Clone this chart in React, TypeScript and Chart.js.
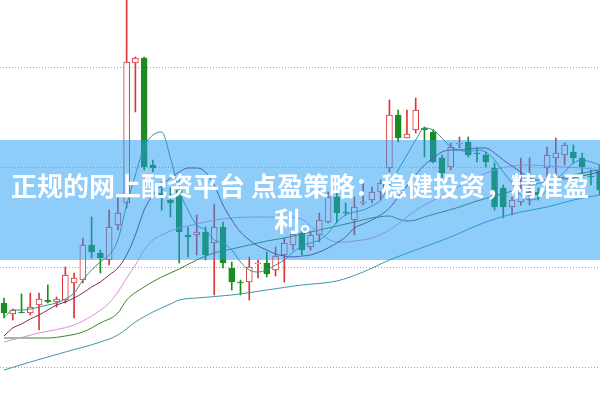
import React, { useEffect, useRef } from "react";
import { Chart, registerables } from "chart.js";

Chart.register(...registerables);

// Candles (price units), index 0..68
const opens = [1.64,1.53,1.55,1.54,1.62,1.67,1.65,1.67,1.84,1.87,2.22,2.14,2.07,2.42,2.64,4.04,4.09,3.02,2.74,2.67,2.77,2.32,2.32,2.35,2.24,2.40,1.99,1.85,1.85,2.03,2.04,1.97,2.12,2.22,2.34,2.20,2.32,2.45,2.70,2.55,2.47,2.64,2.67,2.75,2.99,3.52,3.29,3.37,3.39,3.35,3.09,3.00,3.23,3.25,3.14,3.12,2.99,2.79,2.60,2.65,2.72,2.75,2.99,3.09,3.12,3.15,3.09,2.91,2.97];
const highs = [1.69,1.58,1.73,1.74,1.74,1.82,1.70,2.00,1.94,2.29,2.50,2.17,2.57,2.72,4.77,4.10,4.10,3.07,2.85,2.79,2.87,2.40,2.52,2.40,2.63,2.45,2.05,1.87,2.10,2.07,2.15,2.20,2.29,2.36,2.37,2.35,2.54,2.75,2.74,2.64,2.70,2.84,2.80,2.87,3.67,3.57,3.57,3.69,3.40,3.37,3.12,3.24,3.30,3.30,3.19,3.15,3.04,2.82,2.70,3.09,3.09,2.79,3.20,3.29,3.24,3.22,3.14,2.97,3.02];
const lows = [1.49,1.47,1.54,1.52,1.37,1.64,1.60,1.64,1.49,1.84,2.09,1.94,2.02,2.37,2.59,3.55,2.97,2.95,2.57,2.50,2.04,2.10,2.12,2.07,1.72,1.99,1.77,1.72,1.67,1.89,1.90,1.91,1.85,2.17,2.12,2.17,2.25,2.44,2.44,2.52,2.32,2.62,2.64,2.67,2.95,3.25,3.29,3.34,3.10,3.04,2.87,2.97,3.19,3.10,3.05,3.00,2.57,2.49,2.52,2.62,2.62,2.67,2.90,2.90,3.02,3.04,2.89,2.82,2.72];
const closes = [1.54,1.57,1.54,1.60,1.68,1.65,1.68,1.92,1.89,2.22,2.15,2.09,2.40,2.54,4.05,4.09,3.00,2.99,2.71,2.64,2.35,2.30,2.35,2.12,2.40,2.04,1.85,1.84,2.00,2.04,1.93,2.11,2.24,2.33,2.17,2.32,2.47,2.70,2.54,2.54,2.60,2.65,2.75,2.84,3.52,3.29,3.33,3.57,3.37,3.05,2.94,3.20,3.24,3.12,3.13,3.05,2.60,2.60,2.67,2.77,2.75,2.72,3.12,3.14,3.22,3.09,3.00,2.90,2.77];

// Moving averages
const ma5 = [1.49,1.57,1.57,1.58,1.60,1.62,1.64,1.68,1.74,1.87,1.97,2.05,2.12,2.27,2.62,2.92,3.20,3.32,3.35,3.09,2.77,2.57,2.42,2.37,2.27,2.24,2.17,2.05,1.97,1.95,1.97,2.02,2.07,2.15,2.21,2.24,2.27,2.34,2.45,2.52,2.55,2.57,2.61,2.67,2.82,2.97,3.12,3.27,3.39,3.37,3.29,3.20,3.17,3.15,3.17,3.15,3.07,2.95,2.84,2.72,2.67,2.69,2.77,2.87,2.95,3.04,3.07,3.05,3.02];
const ma10 = [1.31,1.39,1.43,1.48,1.52,1.57,1.62,1.65,1.69,1.74,1.80,1.85,1.92,1.99,2.12,2.32,2.57,2.72,2.82,2.89,2.95,2.99,2.99,2.95,2.82,2.62,2.47,2.35,2.27,2.21,2.17,2.13,2.11,2.10,2.11,2.12,2.15,2.19,2.24,2.30,2.39,2.43,2.47,2.52,2.59,2.70,2.81,2.92,3.02,3.09,3.15,3.17,3.17,3.18,3.19,3.19,3.14,3.07,3.01,2.95,2.89,2.87,2.87,2.89,2.88,2.89,2.91,2.93,2.95];
const ma20At = [0,4,8,10,12,13,14,15,16,17,18,19,20,22,24,26,28,30,32,34,35,36,37,38,39,40,42,44,45,46,48,50,52,54,56,58,60,62,64,66,68];
const ma20 = [1.25,1.34,1.42,1.51,1.64,1.75,1.89,2.02,2.17,2.27,2.32,2.36,2.39,2.43,2.47,2.49,2.50,2.50,2.50,2.48,2.41,2.34,2.28,2.25,2.25,2.26,2.29,2.37,2.43,2.50,2.62,2.71,2.81,2.90,2.97,3.01,3.02,3.01,3.00,2.99,2.97];
const ma30At = [0,5,7,9,11,13,14,16,18,20,22,24,26,28,30,32,34,36,38,40,42,44,45,46,47,48,50,52,54,56,58,60,62,64,66,68];
const ma30 = [1.29,1.29,1.31,1.35,1.44,1.54,1.67,1.80,1.90,1.98,2.07,2.14,2.18,2.22,2.26,2.29,2.33,2.37,2.41,2.45,2.49,2.51,2.48,2.46,2.47,2.50,2.55,2.60,2.66,2.71,2.76,2.81,2.86,2.90,2.94,2.97];
const ma60At = [0,3,7,11,13,15,17,19,20,22,26,30,34,38,41,44,47,51,55,59,62,65,68];
const ma60 = [0.97,1.05,1.15,1.25,1.32,1.45,1.55,1.63,1.67,1.69,1.72,1.77,1.82,1.86,1.95,2.07,2.17,2.30,2.45,2.55,2.60,2.67,2.72];

const gridTicks = [1, 2, 3, 4];
const bannerText = "正规的网上配资平台 点盈策略：稳健投资，精准盈利。";

const RED = "#dd3535";
const GREEN = "#1c8c22";

export default function App() {
  const ref = useRef<HTMLCanvasElement | null>(null);

  useEffect(() => {
    if (!ref.current) return;
    const up = closes.map((c, i) => c > opens[i]);
    const colors = up.map((u) => (u ? RED : GREEN));
    const idx = opens.map((_, i) => i);
    const mk = (xs: number[], ys: number[]) => xs.map((x, i) => ({ x, y: ys[i] }));
    const lineDs = (label: string, data: any[], color: string, order: number) => ({
      type: "line" as const,
      label,
      data,
      borderColor: color,
      borderWidth: 1,
      pointRadius: 0,
      fill: false,
      cubicInterpolationMode: "monotone" as const,
      order,
    });
    const chart = new Chart(ref.current, {
      type: "bar",
      data: {
        datasets: [
          {
            type: "bar",
            label: "wick",
            data: idx.map((i) => ({ x: i, y: [lows[i], highs[i]] })) as any,
            backgroundColor: colors,
            borderWidth: 0,
            barThickness: 1,
            grouped: false,
            order: 10,
          },
          {
            type: "bar",
            label: "body",
            data: idx.map((i) => ({ x: i, y: [opens[i], closes[i]] })) as any,
            backgroundColor: up.map((u) => (u ? "#ffffff" : GREEN)),
            borderColor: colors,
            borderWidth: 1,
            borderSkipped: false,
            barThickness: 6,
            grouped: false,
            order: 9,
          },
          lineDs("MA60", mk(ma60At, ma60), "#3a98a8", 5),
          lineDs("MA30", mk(ma30At, ma30), "#3f7f2f", 4),
          lineDs("MA20", mk(ma20At, ma20), "#e08ae0", 3),
          lineDs("MA10", mk(idx, ma10), "#7a2a55", 2),
          lineDs("MA5", mk(idx, ma5), "#3a8f90", 1),
        ] as any,
      },
      options: {
        animation: false,
        responsive: false,
        maintainAspectRatio: false,
        events: [],
        layout: { padding: 0, autoPadding: false },
        plugins: { legend: { display: false }, tooltip: { enabled: false } },
        scales: {
          x: { type: "linear", min: -0.457, max: 68.04, offset: false, display: false },
          y: {
            type: "linear",
            min: 0.66,
            max: 4.67,
            position: "left",
            ticks: { display: false },
            border: { display: false, dash: [1, 2] },
            grid: { drawTicks: false, color: "#a8a8a8", lineWidth: 1 },
            afterBuildTicks: (s: any) => {
              s.ticks = gridTicks.map((v) => ({ value: v }));
            },
          },
        },
      } as any,
    });
    return () => chart.destroy();
  }, []);

  return (
    <div style={{ position: "absolute", left: 0, top: 0, width: 600, height: 401, overflow: "hidden", background: "#fff" }}>
      <canvas ref={ref} width={600} height={401} style={{ display: "block", width: 600, height: 401 }} />
      <div
        style={{
          position: "absolute",
          left: 0,
          top: 140,
          width: 600,
          height: 120,
          background: "rgba(29,153,245,0.5)",
        }}
      />
      <div
        style={{
          position: "absolute",
          left: 0,
          top: 167,
          width: 600,
          textAlign: "center",
          color: "#ffffff",
          fontFamily: '"Noto Sans CJK SC", sans-serif',
          fontWeight: 700,
          fontSize: 26,
          lineHeight: "35px",
        }}
      >
        {bannerText}
      </div>
    </div>
  );
}
